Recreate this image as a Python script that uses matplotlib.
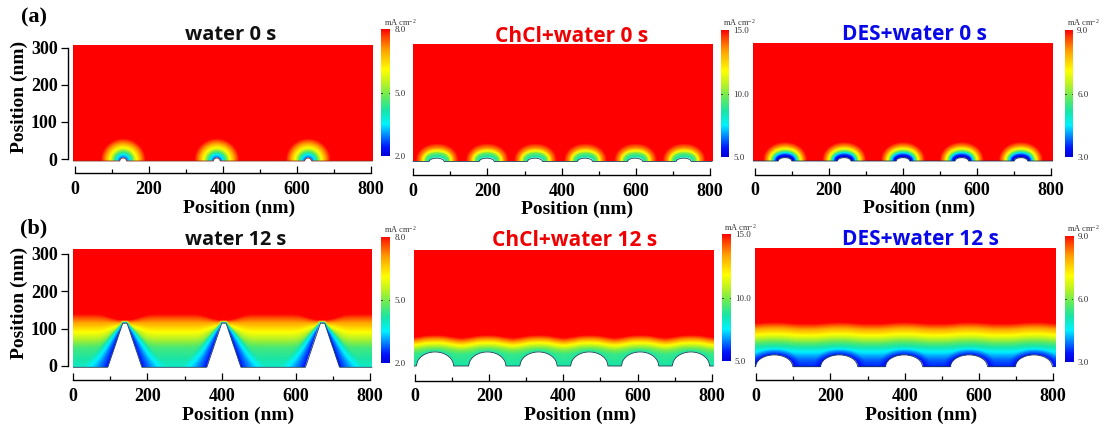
import matplotlib

matplotlib.use("Agg")
import matplotlib.pyplot as plt
import numpy as np
from matplotlib.colors import LinearSegmentedColormap

W, H = 1109, 430

plt.rcParams["font.family"] = ["Liberation Serif", "DejaVu Serif"]
plt.rcParams["mathtext.default"] = "regular"

# titles and colour scales
TITLES = ["water 0 s", "ChCl+water 0 s", "DES+water 0 s",
          "water 12 s", "ChCl+water 12 s", "DES+water 12 s"]
TITLE_COLORS = ["#111111", "#f00000", "#0808e8", "#111111", "#f00000", "#0808e8"]
TITLE_SIZES = [14.5, 15, 15, 14.3, 15, 15]
CBAR_TICKS = [[2.0, 5.0, 8.0], [5.0, 10.0, 15.0], [3.0, 6.0, 9.0],
              [2.0, 5.0, 8.0], [5.0, 10.0, 15.0], [3.0, 6.0, 9.0]]
X_TICKS = [0, 200, 400, 600, 800]
X_MINOR = [100, 300, 500, 700]
Y_TICKS = [0, 100, 200, 300]

# feature centres (nm), half widths, heights
CENTERS = [[130, 383, 630],
           [63, 198, 328, 463, 598, 729],
           [81, 241, 400, 559, 719],
           [139, 406, 672],
           [54, 195, 333, 470, 607, 744],
           [48, 223, 398, 573, 748]]
HALF_W = [9, 20, 18, 46, 50, 50]
HEIGHT = [8, 9, 9, 118, 38, 32]
TOP_W = [None, None, None, 6, None, None]

# 0 s panels: normalised level against distance from the feature (nm)
HALO_D = [[0, 8, 17, 27, 40, 52],
          [0, 12, 18, 25, 38],
          [0, 6, 13, 17, 24, 31, 42]]
HALO_V = [[0.12, 0.25, 0.46, 0.68, 0.86, 1.0],
          [0.32, 0.48, 0.68, 0.85, 1.0],
          [0.0, 0.05, 0.25, 0.45, 0.68, 0.85, 1.0]]

# 12 s panels: normalised level against height (nm)
FRONT_Y = [[0, 50, 93, 118, 142],
           [0, 30, 42, 55, 64, 76],
           [0, 20, 40, 63, 85, 100, 117]]
FRONT_V = [[0.32, 0.42, 0.68, 0.83, 1.0],
           [0.36, 0.40, 0.50, 0.68, 0.83, 1.0],
           [0.08, 0.14, 0.25, 0.45, 0.68, 0.82, 1.0]]
SURF_V = [0.05, 0.36, 0.05]
WAVE = [0.0, 0.2, 0.12]

# pixel layout: x of 0, x of 800, y of 300, y of 0, image box, baseline, colourbar
LAYOUT = [
    dict(x0=75, x1=371, yt=48, y0=159, img=(73, 372.5, 46, 161), base=173, bar=(381, 390, 29, 156), ax=True,
         title=(231, 35), xlab=(239, 208)),
    dict(x0=413.3, x1=710, yt=50, y0=161, img=(412.7, 712, 45, 161.5), base=175, bar=(721, 729, 30, 157), ax=False,
         title=(572, 36), xlab=(577, 209)),
    dict(x0=755, x1=1051, yt=50, y0=161, img=(753, 1053, 43, 161), base=174.5, bar=(1065, 1073, 30, 157), ax=False,
         title=(914, 35), xlab=(919, 208)),
    dict(x0=73.3, x1=370, yt=254, y0=366, img=(73, 372, 250, 367.3), base=380, bar=(381, 390, 236.7, 363), ax=True,
         title=(236, 240), xlab=(238, 415)),
    dict(x0=415, x1=711.7, yt=255, y0=366, img=(414, 713.3, 250, 366), base=380.7, bar=(722, 730.7, 234.3, 361), ax=False,
         title=(575, 240), xlab=(580, 415)),
    dict(x0=756.3, x1=1053, yt=255, y0=366, img=(754.7, 1055, 248, 366.7), base=380, bar=(1065, 1073.3, 235.7, 362), ax=False,
         title=(920, 239), xlab=(921, 415)),
]

cmap = LinearSegmentedColormap.from_list("field", [
    (0.0, (0.0, 0.0, 0.85)), (0.07, (0.0, 0.08, 1.0)), (0.25, (0.0, 0.95, 1.0)),
    (0.36, (0.1, 0.9, 0.65)), (0.47, (0.4, 0.92, 0.35)), (0.57, (0.72, 0.95, 0.15)), (0.68, (1.0, 1.0, 0.0)),
    (0.84, (1.0, 0.62, 0.0)), (0.95, (1.0, 0.22, 0.0)), (1.0, (1.0, 0.0, 0.0))])
cmap.set_bad("white")


def px_box(x0, x1, ytop, ybot):
    return [x0 / W, 1 - ybot / H, (x1 - x0) / W, (ybot - ytop) / H]


def surface(xs, centers, half_w, height, top_w):
    h = np.zeros_like(xs)
    for c in centers:
        r = np.abs(xs - c)
        if top_w is None:
            part = height * np.sqrt(np.clip(1 - (r / half_w) ** 2, 0, 1))
        else:
            part = np.interp(r, [top_w, half_w], [height, 0])
        h = np.maximum(h, part)
    return h


def distance(X, Y, px, py):
    d = np.zeros_like(X)
    for j in range(X.shape[0]):
        d[j] = np.hypot(X[j][:, None] - px, Y[j][:, None] - py).min(axis=1)
    return d


def build_field(i, xs, ys):
    X, Y = np.meshgrid(xs, ys)
    h = surface(xs, CENTERS[i], HALF_W[i], HEIGHT[i], TOP_W[i])
    active = h > 0
    d = distance(X, Y, xs[active], h[active])

    if i < 3:
        v = np.interp(d, HALO_D[i], HALO_V[i])
    elif i == 3:
        # contours squeeze together at the tips and fan out down the walls
        k = 0
        dx = np.min([np.abs(X - c) for c in CENTERS[i]], axis=0)
        squeeze = 1 + 2.3 * np.exp(-((dx / 35) ** 2))
        v = np.interp(HEIGHT[i] + (Y - HEIGHT[i]) * squeeze, FRONT_Y[k], FRONT_V[k])
        reach = 6 + 0.5 * np.clip(HEIGHT[i] - Y, 0, None)
        r = np.clip(d / reach, 0, 1)
        v = SURF_V[k] + (v - SURF_V[k]) * r ** 0.8
    else:
        k = i - 3
        kernel = np.ones(41) / 41
        smooth = np.convolve(np.pad(h, 20, mode="edge"), kernel, mode="valid")
        v = np.interp(Y - WAVE[k] * smooth[None, :], FRONT_Y[k], FRONT_V[k])
        reach = 10 if i == 4 else 20
        v = SURF_V[k] + (v - SURF_V[k]) * np.clip(d / reach, 0, 1) ** 0.7
    v = np.where(Y < np.interp(X.ravel(), xs, h).reshape(X.shape), np.nan, v)
    return v, h


def draw_panel(fig, i):
    lay = LAYOUT[i]
    ax = fig.add_axes(px_box(lay["x0"], lay["x1"], lay["yt"], lay["y0"]))
    xscale = 800 / (lay["x1"] - lay["x0"])
    yscale = 300 / (lay["y0"] - lay["yt"])
    left, right, top, bottom = lay["img"]
    xa = (left - lay["x0"]) * xscale
    xb = (right - lay["x0"]) * xscale
    ya = (lay["y0"] - bottom) * yscale
    yb = (lay["y0"] - top) * yscale

    xs = np.arange(xa, xb + 1, 1.0)
    ys = np.arange(0, yb - ya + 1, 1.5)
    field, h = build_field(i, xs, ys)
    ax.imshow(field, origin="lower", extent=[xa, xb, ya, yb], aspect="auto", cmap=cmap,
              vmin=0, vmax=1, interpolation="bilinear", clip_on=False)
    line_color = "#903020" if i == 0 else "#1a3a50"
    ax.plot(xs, h + ya, color=line_color, lw=0.6, clip_on=False, solid_capstyle="butt")
    ax.set_xlim(0, 800)
    ax.set_ylim(0, 300)

    for s in ["top", "right"]:
        ax.spines[s].set_visible(False)
    ax.spines["bottom"].set_position(("outward", (lay["base"] - lay["y0"]) * 0.72))
    ax.spines["bottom"].set_bounds(0, 800)
    ax.spines["bottom"].set_linewidth(1.0)
    ax.set_xticks(X_TICKS)
    ax.set_xticks(X_MINOR, minor=True)
    ax.tick_params(axis="x", which="major", direction="in", length=5.2, width=0.9, pad=5.5, labelsize=13)
    ax.tick_params(axis="x", which="minor", direction="in", length=2.6, width=0.9)
    if lay["ax"]:
        ax.spines["left"].set_position(("outward", (lay["x0"] - 68) * 0.72))
        ax.spines["left"].set_bounds(0, 300)
        ax.spines["left"].set_linewidth(1.0)
        ax.set_yticks(Y_TICKS)
        ax.tick_params(axis="y", direction="out", length=5, width=0.9, pad=2.5, labelsize=13)
    else:
        ax.spines["left"].set_visible(False)
        ax.set_yticks([])
    for t in ax.get_xticklabels() + ax.get_yticklabels():
        t.set_fontweight("bold")
    ax.patch.set_alpha(0)

    tx, ty = lay["title"]
    fig.text(tx / W, 1 - ty / H, TITLES[i], color=TITLE_COLORS[i], ha="center", va="center",
             family=["Open Sans", "DejaVu Sans"], fontweight="bold", fontsize=TITLE_SIZES[i])
    lx, ly = lay["xlab"]
    fig.text(lx / W, 1 - ly / H, "Position (nm)", ha="center", va="center", fontweight="bold", fontsize=14)
    if lay["ax"]:
        fig.text(19 / W, 1 - (lay["y0"] + lay["yt"] - 14) / 2 / H, "Position (nm)", rotation=90,
                 ha="center", va="center", fontweight="bold", fontsize=14)

    # colour scale
    bx0, bx1, bt, bb = lay["bar"]
    cax = fig.add_axes(px_box(bx0, bx1, bt, bb))
    ticks = CBAR_TICKS[i]
    grad = np.linspace(0, 1, 256)[:, None]
    cax.imshow(grad, origin="lower", aspect="auto", cmap=cmap, vmin=0, vmax=1,
               extent=[0, 1, ticks[0], ticks[-1]])
    cax.set_xticks([])
    cax.yaxis.tick_right()
    cax.set_yticks(ticks)
    cax.set_yticklabels([f"{t:.1f}" for t in ticks])
    cax.tick_params(axis="y", length=0, pad=3, labelsize=6.5, labelcolor="#333333")
    cax.plot([0, 0.12], [ticks[1], ticks[1]], color="#222222", lw=0.6)
    cax.plot([0.88, 1], [ticks[1], ticks[1]], color="#222222", lw=0.6)
    cax.set_xlim(0, 1)
    cax.set_ylim(ticks[0], ticks[-1])
    for s in cax.spines.values():
        s.set_visible(False)
    fig.text((bx1 + 10) / W, 1 - (bt - 7) / H, "mA cm$^{-2}$", ha="center", va="center", fontsize=6, color="#333333")


def main():
    fig = plt.figure(figsize=(W / 100, H / 100), dpi=100)
    for i in range(6):
        draw_panel(fig, i)
    fig.text(34 / W, 1 - 17 / H, "(a)", ha="center", va="center", fontweight="bold", fontsize=16)
    fig.text(34 / W, 1 - 228 / H, "(b)", ha="center", va="center", fontweight="bold", fontsize=16)
    fig.savefig("out.png", dpi=100)


if __name__ == "__main__":
    main()
